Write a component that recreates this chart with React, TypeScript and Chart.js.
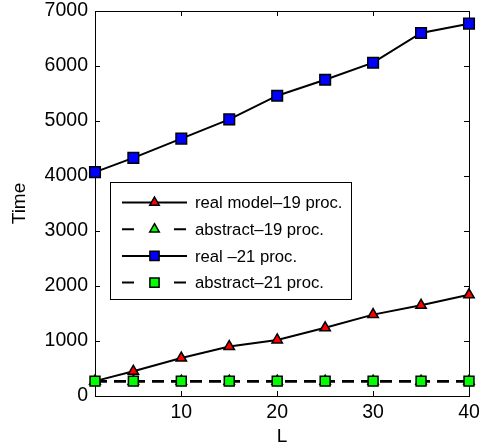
import { useEffect, useRef } from "react";
import { Chart, registerables } from "chart.js";
Chart.register(...registerables);

const L = [1, 5, 10, 15, 20, 25, 30, 35, 40];
const realModel19 = [270, 450, 690, 900, 1020, 1240, 1480, 1650, 1840];
const abstract19 = [270, 270, 270, 270, 270, 270, 270, 270, 270];
const real21 = [4070, 4330, 4680, 5030, 5460, 5750, 6060, 6600, 6770];
const abstract21 = [270, 270, 270, 270, 270, 270, 270, 270, 270];

const X_TICKS = [10, 20, 30, 40];
const Y_TICKS = [0, 1000, 2000, 3000, 4000, 5000, 6000, 7000];

const LEGEND = [
  { label: "real model\u201319 proc.", dashed: false, shape: "triangle", fill: "#ff0000" },
  { label: "abstract\u201319 proc.", dashed: true, shape: "triangle", fill: "#00ff00" },
  { label: "real \u201321 proc.", dashed: false, shape: "rect", fill: "#0000ff" },
  { label: "abstract\u201321 proc.", dashed: true, shape: "rect", fill: "#00ff00" },
];

const FONT = "'Liberation Sans', Arial, Helvetica, sans-serif";

function drawMarker(ctx: CanvasRenderingContext2D, shape: string, x: number, y: number, r: number, fill: string) {
  ctx.beginPath();
  if (shape === "triangle") {
    for (let i = 0; i < 3; i++) {
      const a = (i * 2 * Math.PI) / 3;
      const px = x + Math.sin(a) * r;
      const py = y - Math.cos(a) * r;
      if (i === 0) ctx.moveTo(px, py);
      else ctx.lineTo(px, py);
    }
    ctx.closePath();
  } else {
    const s = Math.SQRT1_2 * r;
    ctx.rect(x - s, y - s, 2 * s, 2 * s);
  }
  ctx.fillStyle = fill;
  ctx.fill();
  ctx.lineWidth = 1.5;
  ctx.strokeStyle = "#000";
  ctx.stroke();
}

const framePlugin = {
  id: "frame",
  beforeDatasetsDraw(chart: any) {
    const { ctx, chartArea, scales } = chart;
    const { left, right, top, bottom } = chartArea;
    ctx.save();
    ctx.strokeStyle = "#000";
    ctx.lineWidth = 1;
    ctx.strokeRect(Math.round(left) + 0.5, Math.round(top) + 0.5, Math.round(right - left), Math.round(bottom - top));
    ctx.beginPath();
    for (const v of X_TICKS) {
      const px = Math.round(scales.x.getPixelForValue(v)) + 0.5;
      ctx.moveTo(px, bottom);
      ctx.lineTo(px, bottom - 5);
      ctx.moveTo(px, top);
      ctx.lineTo(px, top + 5);
    }
    for (const v of Y_TICKS) {
      const py = Math.round(scales.y.getPixelForValue(v)) + 0.5;
      ctx.moveTo(left, py);
      ctx.lineTo(left + 5, py);
      ctx.moveTo(right, py);
      ctx.lineTo(right - 5, py);
    }
    ctx.stroke();
    ctx.restore();
  },
};

const legendPlugin = {
  id: "customLegend",
  afterDraw(chart: any) {
    const { ctx, chartArea } = chart;
    const bx = chartArea.left + 15;
    const by = chartArea.top + 171;
    const bw = 241;
    const bh = 117;
    ctx.save();
    ctx.fillStyle = "#fff";
    ctx.fillRect(bx, by, bw, bh);
    ctx.strokeStyle = "#000";
    ctx.lineWidth = 1;
    ctx.strokeRect(bx + 0.5, by + 0.5, bw, bh);
    LEGEND.forEach((item, i) => {
      const y = by + 20.5 + i * 26.7;
      const x0 = bx + 12;
      const x1 = bx + 77;
      const mx = (x0 + x1) / 2;
      ctx.strokeStyle = "#000";
      ctx.lineWidth = 2;
      ctx.beginPath();
      if (item.dashed) {
        ctx.moveTo(x0, y);
        ctx.lineTo(x0 + 12, y);
        ctx.moveTo(x1 - 13, y);
        ctx.lineTo(x1 - 1, y);
      } else {
        ctx.moveTo(x0, y);
        ctx.lineTo(x1, y);
      }
      ctx.stroke();
      drawMarker(ctx, item.shape, mx, y, item.shape === "rect" ? 6.5 : 5.5, item.fill);
      ctx.fillStyle = "#000";
      ctx.font = `16.7px ${FONT}`;
      ctx.textBaseline = "middle";
      ctx.textAlign = "left";
      ctx.fillText(item.label, bx + 85, y + 1);
    });
    ctx.restore();
  },
};

export default function App() {
  const ref = useRef<HTMLCanvasElement>(null);
  useEffect(() => {
    document.body.style.margin = "0";
    const canvas = ref.current!;
    const mk = (data: number[], dashed: boolean, shape: string, fill: string, r: number, order: number) => ({
      data: L.map((x, i) => ({ x, y: data[i] })),
      borderColor: "#000",
      borderWidth: dashed ? 2.5 : 2,
      borderDash: dashed ? [12, 7] : [],
      pointStyle: shape,
      pointRadius: r,
      pointBackgroundColor: fill,
      pointBorderColor: "#000",
      pointBorderWidth: 1.5,
      tension: 0,
      clip: false as any,
      order,
    });
    const chart = new Chart(canvas, {
      type: "line",
      data: {
        datasets: [
          { label: LEGEND[0].label, ...mk(realModel19, false, "triangle", "#ff0000", 6, 3) },
          { label: LEGEND[1].label, ...mk(abstract19, true, "triangle", "#00ff00", 6, 2) },
          { label: LEGEND[2].label, ...mk(real21, false, "rect", "#0000ff", 7.5, 1) },
          { label: LEGEND[3].label, ...mk(abstract21, true, "rect", "#00ff00", 7, 0) },
        ] as any,
      },
      options: {
        responsive: false,
        animation: false,
        layout: { padding: { top: 11, right: 12, left: 0, bottom: 0 } },
        plugins: { legend: { display: false }, tooltip: { enabled: false } },
        scales: {
          x: {
            type: "linear",
            min: 1,
            max: 40,
            grid: { display: false, drawTicks: false },
            border: { display: false },
            afterBuildTicks: (s: any) => {
              s.ticks = X_TICKS.map((v) => ({ value: v }));
            },
            afterFit: (s: any) => {
              s.height = 52;
              s.paddingLeft = 0;
              s.paddingRight = 0;
            },
            ticks: { color: "#000", padding: 5, maxRotation: 0, font: { family: FONT, size: 19.5 }, callback: (v: any) => String(v) },
            title: { display: true, text: "L", color: "#000", padding: 0, font: { family: FONT, size: 19 } },
          },
          y: {
            type: "linear",
            min: 0,
            max: 7000,
            grid: { display: false, drawTicks: false },
            border: { display: false },
            afterBuildTicks: (s: any) => {
              s.ticks = Y_TICKS.map((v) => ({ value: v }));
            },
            afterFit: (s: any) => {
              s.width = 95;
              s.paddingTop = 0;
              s.paddingBottom = 0;
            },
            ticks: { color: "#000", padding: 7, font: { family: FONT, size: 19.5 }, callback: (v: any) => String(v) },
            title: { display: true, text: "Time", color: "#000", padding: { top: 8, bottom: 0 }, font: { family: FONT, size: 19 } },
          },
        },
      },
      plugins: [framePlugin, legendPlugin],
    } as any);
    return () => chart.destroy();
  }, []);
  return <canvas ref={ref} width={481} height={448} style={{ display: "block" }} />;
}
